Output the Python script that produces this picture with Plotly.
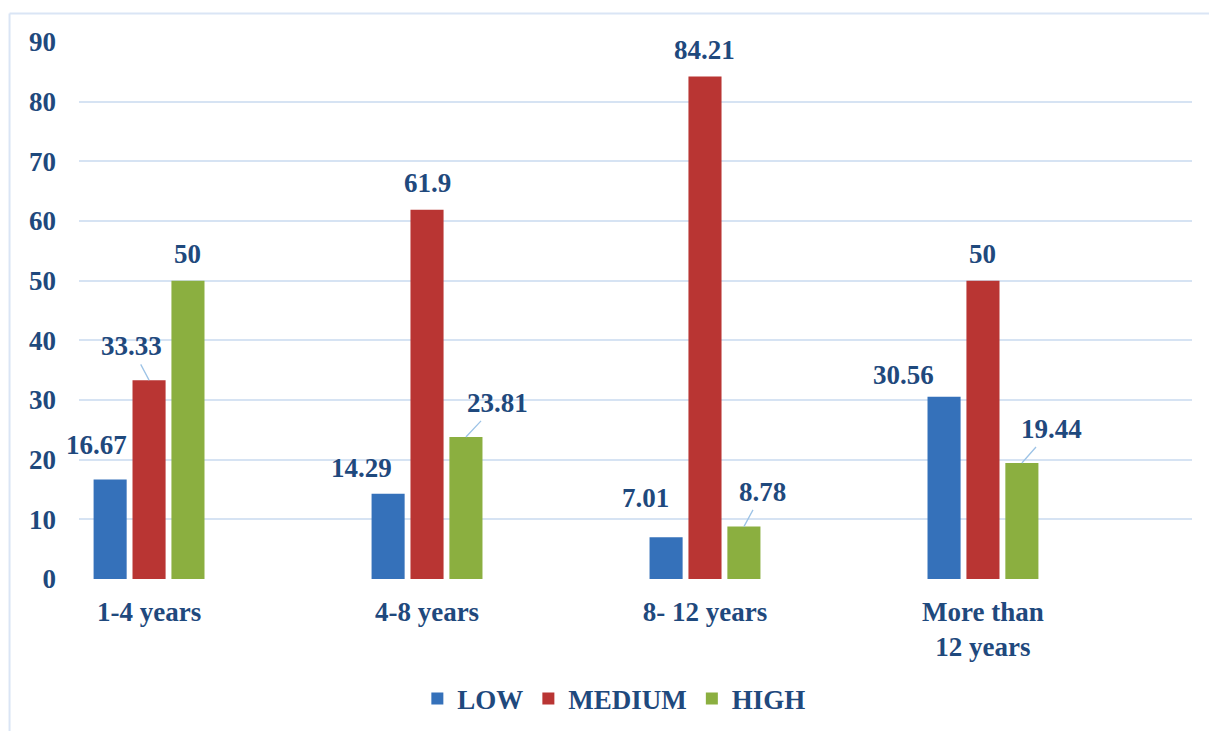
import plotly.graph_objects as go

categories = ["1-4 years", "4-8 years", "8- 12 years", "More than<br>12 years"]
series_names = ["LOW", "MEDIUM", "HIGH"]
low = [16.67, 14.29, 7.01, 30.56]
medium = [33.33, 61.9, 84.21, 50]
high = [50, 23.81, 8.78, 19.44]
y_ticks = [0, 10, 20, 30, 40, 50, 60, 70, 80, 90]

colors = ["#3571BA", "#B93533", "#8BAF40"]
text_color = "#1F497D"
font_family = "Liberation Serif, Times New Roman, serif"
FS = 27

values = [low, medium, high]
x_pos = list(range(len(categories)))
offset = 0.14  # group offset of each series in category units


def bold(s):
    return "<b>" + s.replace("<br>", "</b><br><b>") + "</b>"


def tfont(size=FS):
    return dict(family=font_family, size=size, color=text_color)


fig = go.Figure()
for name, vals, col in zip(series_names, values, colors):
    fig.add_trace(go.Bar(
        x=x_pos, y=vals, name=bold(name),
        marker=dict(color=col, line=dict(width=0)),
    ))

# label placements: (series index, category index, mode, dx, dy)
label_specs = [
    (0, 0, "shift", -14, 35), (1, 0, "arrow", -18, -34), (2, 0, "shift", 0, 27),
    (0, 1, "shift", -27, 26), (1, 1, "shift", 0, 27), (2, 1, "arrow", 32, -34),
    (0, 2, "shift", -21, 39), (1, 2, "shift", 0, 27), (2, 2, "arrow", 19, -35),
    (0, 3, "shift", -41, 22), (1, 3, "shift", 0, 27), (2, 3, "arrow", 30, -34),
]
for si, ci, mode, dx, dy in label_specs:
    v = values[si][ci]
    xv = ci + (si - 1) * offset
    txt = bold(f"{v:g}")
    if mode == "shift":
        fig.add_annotation(x=xv, y=v, text=txt, showarrow=False,
                           xshift=dx, yshift=dy, font=tfont())
    else:
        fig.add_annotation(x=xv, y=v, text=txt, showarrow=True,
                           ax=dx, ay=dy, arrowhead=0, arrowwidth=1.3,
                           arrowcolor="#9DC3E6", standoff=0, startstandoff=2,
                           font=tfont())

# outer chart border (top and left)
fig.add_shape(type="line", xref="paper", yref="paper",
              x0=-0.0624, x1=1.02, y0=1.0531, y1=1.0531,
              line=dict(color="#DAE5F5", width=2))
fig.add_shape(type="line", xref="paper", yref="paper",
              x0=-0.0624, x1=-0.0624, y0=1.0531, y1=-0.3,
              line=dict(color="#DAE5F5", width=2))

fig.update_layout(
    width=1209, height=731,
    margin=dict(l=79, r=17, t=42, b=152, autoexpand=False),
    paper_bgcolor="white", plot_bgcolor="white",
    barmode="group", bargap=0.58, bargroupgap=0.15,
    font=tfont(),
    showlegend=True,
    legend=dict(orientation="h", x=0.481, xanchor="center", y=-0.2235, yanchor="middle",
                font=tfont(), itemwidth=30, tracegroupgap=0, traceorder="normal"),
)
fig.update_xaxes(
    tickmode="array", tickvals=x_pos, ticktext=[bold(c) for c in categories],
    range=[-0.252, 3.752], showgrid=False, zeroline=False, showline=False,
    ticks="", tickfont=tfont(), ticklabelstandoff=14, automargin=False,
)
fig.update_yaxes(
    range=[0, 90], tickmode="array", tickvals=y_ticks,
    ticktext=[bold(str(t)) for t in y_ticks],
    showgrid=True, gridcolor="#D6E3F3", gridwidth=1.5,
    zeroline=False, showline=False, ticks="",
    tickfont=tfont(), ticklabelstandoff=22, automargin=False,
)

fig.write_html("out.html")
